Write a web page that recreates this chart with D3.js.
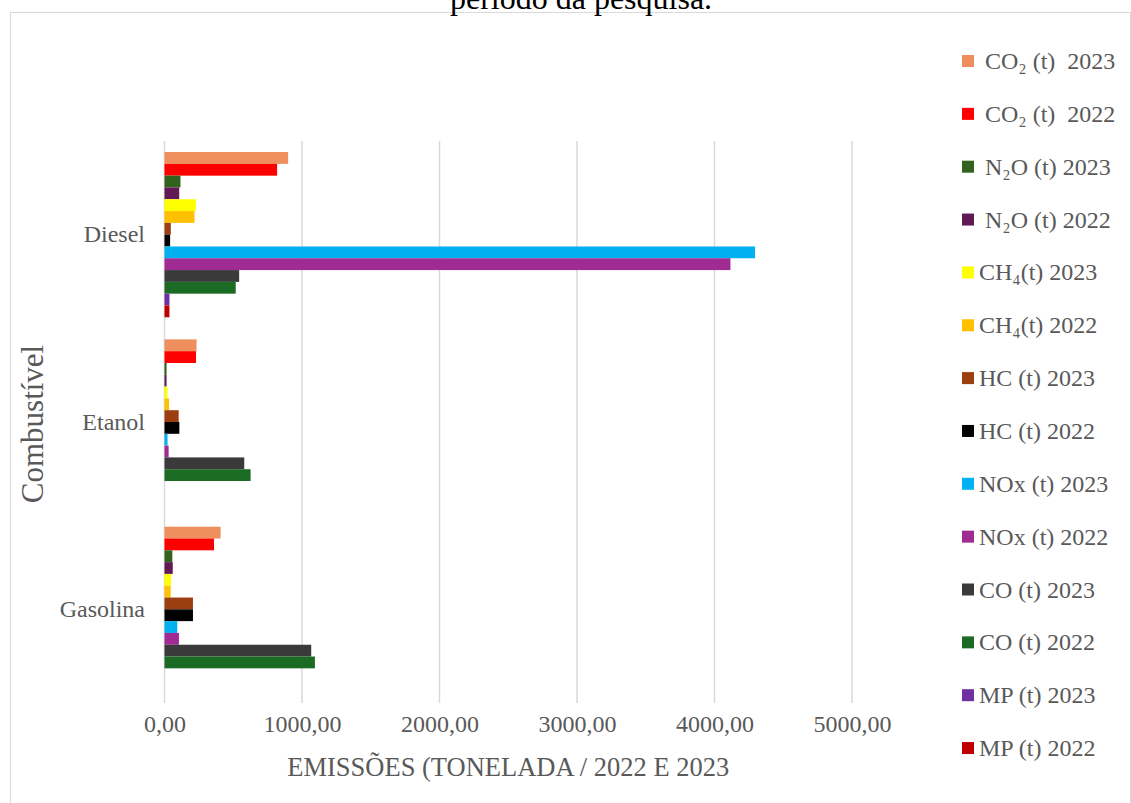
<!DOCTYPE html>
<html>
<head>
<meta charset="utf-8">
<script src="https://cdn.jsdelivr.net/npm/d3@7/dist/d3.min.js"></script>
<style>
  body { margin: 0; background: #fff; }
  svg text { font-family: "Liberation Serif", "Times New Roman", serif; }
</style>
</head>
<body>
<svg id="chart" width="1131" height="803"></svg>
<script>
// categories, top to bottom
const fuels = ["Diesel", "Etanol", "Gasolina"];

// series in legend order (top bar of each group first)
const seriesNames = [
  " CO\u2082 (t)  2023", " CO\u2082 (t)  2022",
  " N\u2082O (t) 2023", " N\u2082O (t) 2022",
  "CH\u2084(t) 2023", "CH\u2084(t) 2022",
  "HC (t) 2023", "HC (t) 2022",
  "NOx (t) 2023", "NOx (t) 2022",
  "CO (t) 2023", "CO (t) 2022",
  "MP (t) 2023", "MP (t) 2022"
];
const seriesColors = [
  "#ee8f5d", "#ff0000", "#33621f", "#611956", "#ffff00", "#ffc000", "#9c3f10",
  "#000000", "#00b0f0", "#a02b93", "#3a3a3a", "#1c6b24", "#7030a0", "#c00000"
];

// values per fuel, same order as seriesNames (tonnes)
const dieselValues   = [899, 819, 116, 107, 228, 218, 46, 41, 4295, 4116, 543, 518, 36, 36];
const etanolValues   = [233, 229, 15, 15, 22, 33, 103, 108, 22, 30, 580, 626, 0, 0];
const gasolinaValues = [408, 360, 57, 60, 47, 45, 207, 207, 93, 105, 1067, 1094, 0, 0];

const xTicks = [0, 1000, 2000, 3000, 4000, 5000];

const valuesByFuel = { "Diesel": dieselValues, "Etanol": etanolValues, "Gasolina": gasolinaValues };

const svg = d3.select("#chart");
const grey = "#595959";

// chart area frame
svg.append("path")
  .attr("d", "M10.5,803 V12.5 H1130.5 V803")
  .attr("fill", "none")
  .attr("stroke", "#d9d9d9")
  .attr("stroke-width", 1);

// cut-off caption line from the page above
svg.append("text")
  .attr("x", 581).attr("y", 9)
  .attr("text-anchor", "middle")
  .attr("font-size", 32)
  .attr("fill", "#000")
  .text("período da pesquisa.");

const x = d3.scaleLinear().domain([0, 5000]).range([164.5, 852]);
const y = d3.scaleBand().domain(fuels).range([141, 703]).paddingInner(0.118).paddingOuter(0.059);
const ySeries = d3.scaleBand().domain(d3.range(seriesNames.length)).range([0, y.bandwidth()]);

// gridlines
svg.append("g").selectAll("line")
  .data(xTicks)
  .join("line")
  .attr("x1", d => x(d)).attr("x2", d => x(d))
  .attr("y1", 141).attr("y2", 703)
  .attr("stroke", "#d9d9d9")
  .attr("stroke-width", 1.5);

// bars
const groups = svg.append("g").selectAll("g")
  .data(fuels)
  .join("g")
  .attr("transform", d => "translate(0," + y(d) + ")");

groups.selectAll("rect")
  .data(f => valuesByFuel[f].map((v, i) => ({ v: v, i: i })))
  .join("rect")
  .attr("x", x(0))
  .attr("y", d => ySeries(d.i))
  .attr("width", d => x(d.v) - x(0))
  .attr("height", ySeries.bandwidth())
  .attr("fill", d => seriesColors[d.i]);

// x axis tick labels
const xAxis = d3.axisBottom(x)
  .tickValues(xTicks)
  .tickSize(0)
  .tickPadding(0)
  .tickFormat(d => d3.format(".2f")(d).replace(".", ","));

svg.append("g")
  .attr("transform", "translate(0,715)")
  .call(xAxis)
  .call(g => g.select(".domain").remove())
  .call(g => g.selectAll("text")
    .attr("font-family", "Liberation Serif, serif")
    .attr("font-size", 24)
    .attr("fill", grey));

// category labels
const yAxis = d3.axisLeft(y).tickSize(0).tickPadding(0);
svg.append("g")
  .attr("transform", "translate(145,0)")
  .call(yAxis)
  .call(g => g.select(".domain").remove())
  .call(g => g.selectAll("text")
    .attr("font-family", "Liberation Serif, serif")
    .attr("font-size", 24)
    .attr("fill", grey));

// axis titles
svg.append("text")
  .attr("x", (x(0) + x(5000)) / 2).attr("y", 776)
  .attr("text-anchor", "middle")
  .attr("font-size", 26.5)
  .attr("fill", grey)
  .text("EMISSÕES (TONELADA / 2022 E 2023");

svg.append("text")
  .attr("transform", "translate(43,424) rotate(-90)")
  .attr("text-anchor", "middle")
  .attr("font-size", 31)
  .attr("fill", grey)
  .text("Combustível");

// legend
const legend = svg.append("g").selectAll("g")
  .data(seriesNames)
  .join("g")
  .attr("transform", (d, i) => "translate(962," + (61 + i * 52.85) + ")");

legend.append("rect")
  .attr("x", 0).attr("y", -6)
  .attr("width", 12).attr("height", 12)
  .attr("fill", (d, i) => seriesColors[i]);

legend.append("text")
  .attr("x", 17).attr("y", 8)
  .attr("font-size", 24)
  .attr("fill", grey)
  .style("white-space", "pre")
  .text(d => d);
</script>
</body>
</html>
